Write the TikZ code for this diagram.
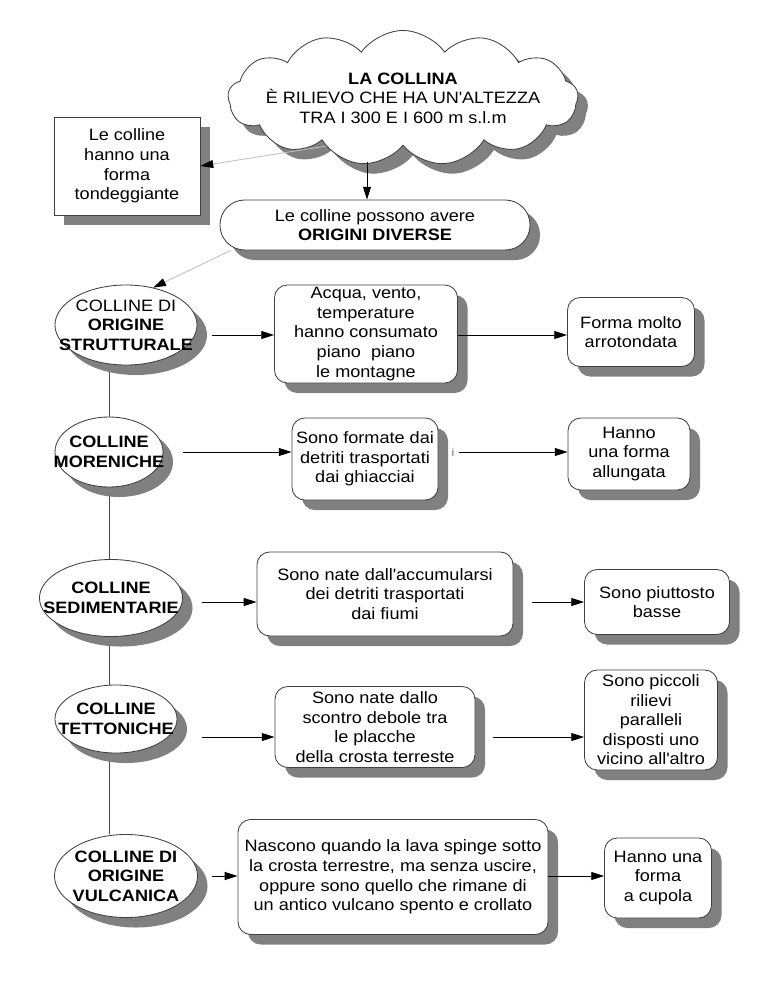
\documentclass[tikz,border=0pt]{standalone}
\usepackage{fontspec}
\setmainfont{Liberation Sans}[FakeStretch=1.1]
\usetikzlibrary{arrows.meta,positioning,shapes.geometric,shapes.symbols,shadows,backgrounds}

\begin{document}
\begin{tikzpicture}[
  x=0.025cm, y=-0.025cm,
  font=\fontsize{11.7}{13.9}\selectfont,
  deep/.style={drop shadow={shadow xshift=0.25cm, shadow yshift=-0.25cm, fill=black!50, opacity=1}},
  box/.style={draw=black!75, fill=white, line width=0.6pt, align=center, inner sep=0pt, deep},
  note/.style={box, rectangle, rounded corners=0.32cm},
  hill/.style={box, ellipse, inner xsep=-1.6cm, inner ysep=-0.7cm, font=\fontsize{11.7}{13.9}\selectfont\bfseries},
  flow/.style={-{Triangle[length=0.32cm, width=0.2cm, color=black]}, line width=0.6pt},
  hint/.style={flow, draw=black!25},
  gap/.style={shorten <=#1}
]
\useasboundingbox (0,0) rectangle (768,994);

\node[box, cloud, cloud puffs=13, cloud puff arc=110, aspect=3.6, inner xsep=-0.4cm, inner ysep=-0.4cm, minimum width=8.75cm, minimum height=1.95cm] (top) at (403,98)
  {\textbf{LA COLLINA}\\È RILIEVO CHE HA UN\textquotesingle ALTEZZA\\TRA I 300 E I 600 m s.l.m};
\node[box, rectangle, minimum width=3.65cm, minimum height=2.45cm] (tond) at (127,166)
  {Le colline\\hanno una\\forma\\tondeggiante};
\node[box, rectangle, rounded corners=0.62cm, minimum width=7.75cm, minimum height=1.25cm] (orig) at (375,225)
  {Le colline possono avere\\\textbf{ORIGINI DIVERSE}};

\node[hill, minimum width=3.55cm, minimum height=2cm] (strut) at (126,325) {\textmd{COLLINE DI}\\ORIGINE\\STRUTTURALE};
\node[hill, minimum width=2.7cm, minimum height=1.75cm] (moren) at (109,452) {COLLINE\\MORENICHE};
\node[hill, minimum width=3.575cm, minimum height=1.925cm] (sedim) at (111,598) {COLLINE\\SEDIMENTARIE};
\node[hill, minimum width=3.05cm, minimum height=1.7cm] (tetto) at (116,719) {COLLINE\\TETTONICHE};
\node[hill, minimum width=3.575cm, minimum height=2.075cm] (vulca) at (126,876) {COLLINE DI\\ORIGINE\\VULCANICA};

\node[note, minimum width=4.575cm, minimum height=2.45cm] (acqua) at (366,334)
  {Acqua, vento,\\temperature\\hanno consumato\\piano~~piano\\le montagne};
\node[note, minimum width=3.65cm, minimum height=2.05cm] (ghiac) at (365,459)
  {Sono formate dai\\detriti trasportati\\dai ghiacciai};
\node[note, minimum width=6.4cm, minimum height=2.1cm] (fiumi) at (385,594)
  {Sono nate dall\textquotesingle accumularsi\\dei detriti trasportati\\dai fiumi};
\node[note, minimum width=5cm, minimum height=2.025cm] (placc) at (375,727)
  {Sono nate dallo\\scontro debole tra\\le placche\\della crosta terreste};
\node[note, minimum width=7.75cm, minimum height=2.875cm] (lava) at (393,877)
  {Nascono quando la lava spinge sotto\\la crosta terrestre, ma senza uscire,\\oppure sono quello che rimane di\\un antico vulcano spento e crollato};

\node[note, minimum width=3.175cm, minimum height=1.725cm] (tonda) at (631,332) {Forma molto\\arrotondata};
\node[note, minimum width=3.05cm, minimum height=1.8cm] (lunga) at (629,454) {Hanno\\una forma\\allungata};
\node[note, minimum width=3.625cm, minimum height=1.625cm] (basse) at (657,602) {Sono piuttosto\\basse};
\node[note, minimum width=3.325cm, minimum height=2.5cm] (paral) at (651,720)
  {Sono piccoli\\rilievi\\paralleli\\disposti uno\\vicino all\textquotesingle altro};
\node[note, minimum width=2.675cm, minimum height=2cm] (cupola) at (658,878) {Hanno una\\forma\\a cupola};

\node[font=\fontsize{8}{9}\selectfont, text=black!55, inner sep=0pt] (ichar) at (453,452) {i};

\coordinate (spine) at (109,0);
\coordinate (row1) at (0,335);
\coordinate (row2) at (0,452);
\coordinate (row3) at (0,602);
\coordinate (row4) at (0,737);
\coordinate (row5) at (0,876);

\begin{pgfonlayer}{background}
\draw[draw=black!70, line width=0.6pt] (strut.south -| spine) -- (vulca.north -| spine);
\end{pgfonlayer}

\draw[hint] (top.212) -- (tond.east);
\draw[flow, gap=0.4cm] ([xshift=-0.2cm]orig.north |- top.south) -- ([xshift=-0.2cm]orig.north);
\draw[hint] (orig.190) -- (strut.54);

\draw[flow, gap=0.375cm] (strut.east |- row1) -- (acqua.west |- row1);
\draw[flow] (acqua.east |- row1) -- (tonda.west |- row1);
\draw[flow, gap=0.5cm] (moren.east |- row2) -- (ghiac.west |- row2);
\draw[flow, gap=0.1cm] (ichar.east) -- (lunga.west |- row2);
\draw[flow, gap=0.475cm] (sedim.east |- row3) -- (fiumi.west |- row3);
\draw[flow, gap=0.475cm] (fiumi.east |- row3) -- (basse.west |- row3);
\draw[flow, gap=0.625cm] (tetto.east |- row4) -- (placc.west |- row4);
\draw[flow, gap=0.45cm] (placc.east |- row4) -- (paral.west |- row4);
\draw[flow, gap=0.35cm] (vulca.east |- row5) -- (lava.west |- row5);
\draw[flow] (lava.east |- row5) -- (cupola.west |- row5);
\end{tikzpicture}
\end{document}
